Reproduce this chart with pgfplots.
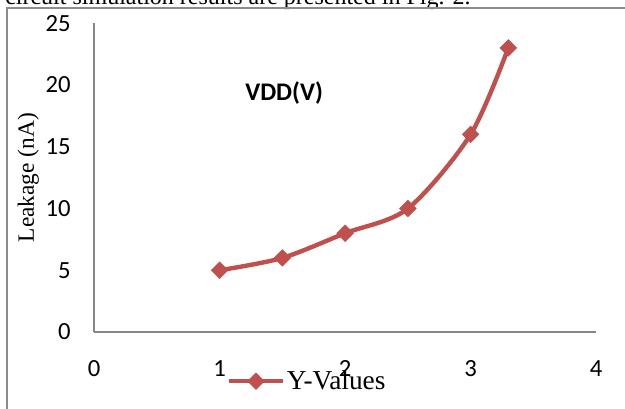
\documentclass[border=0pt]{standalone}
\usepackage{pgfplots}
\pgfplotsset{compat=1.18}
\usepackage{fontspec}
\setmainfont{Liberation Serif}
\newfontfamily\carlito{Carlito}
\definecolor{exred}{RGB}{192,80,77}
\definecolor{axgray}{RGB}{134,134,134}
\definecolor{frgray}{RGB}{140,140,140}
\begin{document}
\begin{tikzpicture}[x=1pt,y=1pt]
\useasboundingbox (0,0) rectangle (468.75,306);
\clip (0,0) rectangle (468.75,306);
\fill[white] (0,0) rectangle (468.75,306);
\pgfinterruptboundingbox
\node[anchor=base west, inner sep=0pt, font=\fontsize{18}{20}\selectfont] at (3.75,302.25) {circuit simulation results are presented in Fig. 2.};
\draw[frgray, line width=1.1pt] (5.25,-10) -- (5.25,300) -- (480,300);
\begin{axis}[
  at={(75,61.5)}, anchor=south west,
  scale only axis, width=376.5pt, height=231.6pt,
  xmin=0, xmax=4, ymin=0, ymax=25,
  xtick={0,1,2,3,4}, ytick={0,5,10,15,20,25},
  axis x line=bottom, axis y line=left,
  axis line style={-, draw=axgray, line width=1.1pt},
  major tick length=0pt,
  /pgf/number format/assume math mode=true,
  tick label style={font=\carlito\fontsize{18.5}{20}\selectfont, text=black},
  xticklabel style={yshift=-17.75pt},
  yticklabel style={xshift=-14pt},
  ylabel={Leakage (nA)},
  ylabel style={at={(axis description cs:-0.131,0.5)}, anchor=center, font=\fontsize{17.5}{19}\selectfont},
  clip=false,
  legend style={at={(axis description cs:0.263,-0.159)}, anchor=west, draw=none, fill=none, inner sep=0pt,
    nodes={inner sep=0pt}, column sep=1pt, font=\fontsize{20.5}{22}\selectfont},
  legend cell align=left,
  legend image code/.code={\draw[#1, mark repeat=2, mark phase=2] plot coordinates {(0pt,0pt) (20.5pt,0pt) (41pt,0pt)};},
]
\addplot[color=exred, line width=3.3pt, smooth, mark=square*, mark size=4.4pt,
  mark options={solid, rotate=45, fill=exred, draw=exred, line width=0.4pt}]
  coordinates {(1,5) (1.5,6) (2,8) (2.5,10) (3,16) (3.3,23)};
\addlegendentry{Y-Values}
\node[font=\carlito\bfseries\fontsize{19}{21}\selectfont] at (axis cs:1.514,19.35) {VDD(V)};
\end{axis}
\endpgfinterruptboundingbox
\end{tikzpicture}
\end{document}
